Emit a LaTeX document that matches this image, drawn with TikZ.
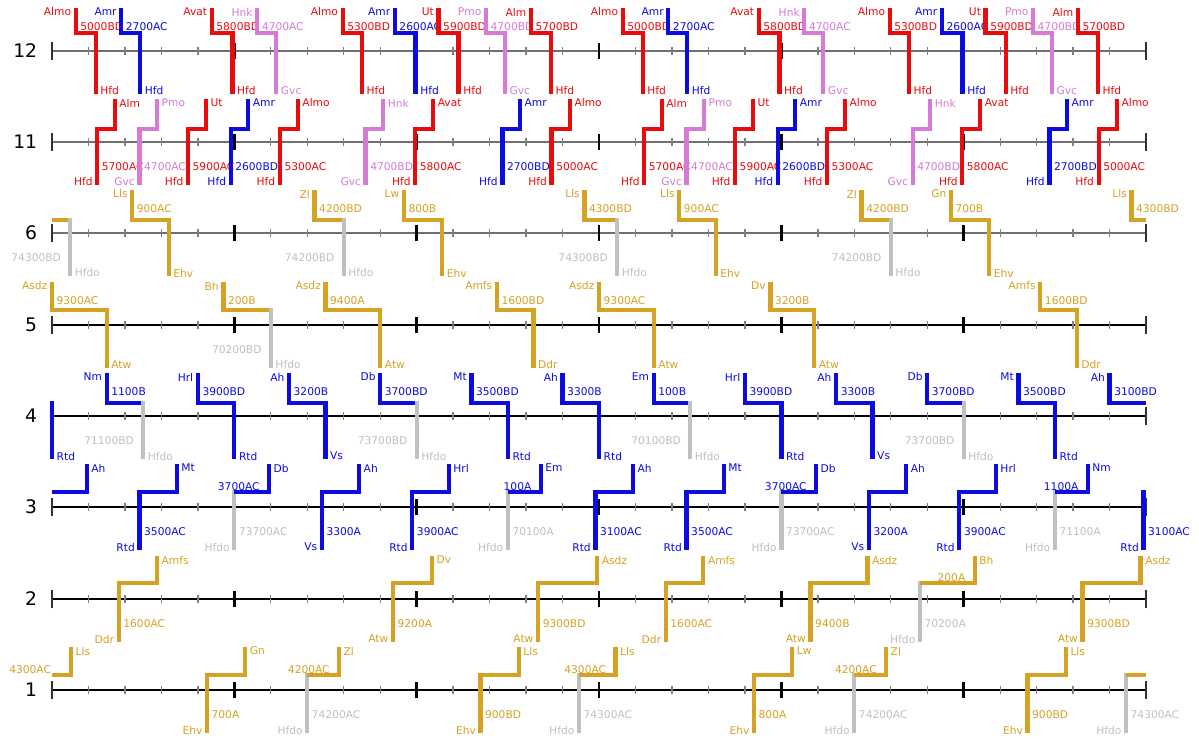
\documentclass[tikz,border=0pt]{standalone}
\usepackage{fontspec}
\setmainfont{DejaVu Sans}

\definecolor{trred}{RGB}{232,12,12}
\definecolor{trblue}{RGB}{12,12,225}
\definecolor{trpink}{RGB}{214,122,214}
\definecolor{trgold}{RGB}{214,162,36}
\definecolor{trempty}{RGB}{192,192,192}
\definecolor{axisgray}{RGB}{112,112,112}

\newcounter{trn}

% one platform track: y, number, line colour
\newcommand{\trackaxis}[3]{%
  \draw[axisline=#3] (0,#1) -- (30,#1);
  \foreach \i in {1,...,29} \draw[minortick] (\i,#1-4) -- (\i,#1+4);
  \foreach \i in {5,10,...,25} \draw[majortick] (\i,#1-8) -- (\i,#1+8);
  \foreach \i in {0,30} \draw[endtick] (\i,#1-9) -- (\i,#1+9);
  \node[tracklabel] (track#2) at (0,#1) {#2};
}

% train coming from above: y, in, out, colour, from, number, to
\newcommand{\dntrain}[7]{%
  \stepcounter{trn}%
  \draw[trainline=#4] (#2,#1+43) |- (#3,#1+\stp) -- (#3,#1-43);
  \node[lbl=#4, tagl] (from\thetrn) at (#2,#1+39) {#5};
  \node[lbl=#4, tagr] (nr\thetrn) at (#2,#1+24) {#6};
  \node[lbl=#4, tagr] (to\thetrn) at (#3,#1-40) {#7};
}

% same, leaving empty to Hfdo: y, in, out, colour, from, number, empty number
\newcommand{\dnempty}[7]{%
  \stepcounter{trn}%
  \draw[trainline=#4] (#2,#1+43) |- (#3,#1+\stp);
  \draw[trainline=trempty] (#3,#1+\stp+2) -- (#3,#1-43);
  \node[lbl=#4, tagl] (from\thetrn) at (#2,#1+39) {#5};
  \node[lbl=#4, tagr] (nr\thetrn) at (#2,#1+24) {#6};
  \node[lbl=trempty, tagl, xshift=-3.5pt] (enr\thetrn) at (#3,#1-25) {#7};
  \node[lbl=trempty, tagr] (to\thetrn) at (#3,#1-40) {Hfdo};
}

% train coming from below: y, in, out, colour, from, number, to
\newcommand{\uptrain}[7]{%
  \stepcounter{trn}%
  \draw[trainline=#4] (#2,#1-43) |- (#3,#1+\stp) -- (#3,#1+43);
  \node[lbl=#4, tagl] (from\thetrn) at (#2,#1-40) {#5};
  \node[lbl=#4, tagr] (nr\thetrn) at (#2,#1-25) {#6};
  \node[lbl=#4, tagr] (to\thetrn) at (#3,#1+39) {#7};
}

% same, coming empty from Hfdo: y, in, out, colour, empty number, number, to
\newcommand{\upempty}[7]{%
  \stepcounter{trn}%
  \draw[trainline=trempty] (#2,#1-43) -- (#2,#1+\stp+2);
  \draw[trainline=#4] (#2,#1+\stp) -| (#3,#1+43);
  \node[lbl=trempty, tagl] (from\thetrn) at (#2,#1-40) {Hfdo};
  \node[lbl=trempty, tagr] (enr\thetrn) at (#2,#1-25) {#5};
  \node[lbl=#4, anchor=south east, xshift=-6pt] (nr\thetrn) at (#3,#1+\stp) {#6};
  \node[lbl=#4, tagr] (to\thetrn) at (#3,#1+39) {#7};
}

\begin{document}
\begin{tikzpicture}[
    x=27.35pt,
    y=0.75pt,
    every node/.style={font=\fontsize{8}{9.6}\selectfont, inner sep=0.8pt},
    lbl/.style={text=#1},
    tagl/.style={anchor=east, xshift=-2.5pt},
    tagr/.style={anchor=west, xshift=2.5pt},
    trainline/.style={draw=#1, line width=3.2pt},
    axisline/.style={draw=#1, line width=1.6pt},
    minortick/.style={draw=gray, line width=1pt},
    majortick/.style={draw=black, line width=2pt},
    endtick/.style={draw=black!80, line width=1.4pt},
    tracklabel/.style={anchor=east, xshift=-11pt, inner sep=0pt, font=\fontsize{14}{16}\selectfont}
  ]
  \path[use as bounding box, fill=white] (-1.4258,0) rectangle (31.4515,740);

  % Track 12
  \def\rowy{689}\def\stp{18}
  \trackaxis{\rowy}{12}{axisgray}
  \foreach \s in {0,15}
    \foreach \ta/\tb/\col/\org/\nr/\dst in {
        0.65/1.2/trred/Almo/5000BD/Hfd,
        1.9/2.42/trblue/Amr/2700AC/Hfd,
        4.38/4.95/trred/Avat/5800BD/Hfd,
        5.63/6.15/trpink/Hnk/4700AC/Gvc,
        7.97/8.5/trred/Almo/5300BD/Hfd,
        9.4/9.97/trblue/Amr/2600AC/Hfd,
        10.6/11.15/trred/Ut/5900BD/Hfd,
        11.9/12.42/trpink/Pmo/4700BD/Gvc,
        13.13/13.68/trred/Alm/5700BD/Hfd}
      {\dntrain{\rowy}{\ta+\s}{\tb+\s}{\col}{\org}{\nr}{\dst}}

  % Track 11
  \def\rowy{598}\def\stp{13}
  \trackaxis{\rowy}{11}{axisgray}
  \foreach \s in {0,15}
    \foreach \ta/\tb/\col/\org/\nr/\dst in {
        1.24/1.72/trred/Hfd/5700AC/Alm,
        2.4/2.88/trpink/Gvc/4700AC/Pmo,
        3.73/4.22/trred/Hfd/5900AC/Ut,
        4.9/5.38/trblue/Hfd/2600BD/Amr,
        6.25/6.74/trred/Hfd/5300AC/Almo,
        8.6/9.08/trpink/Gvc/4700BD/Hnk,
        9.96/10.45/trred/Hfd/5800AC/Avat,
        12.35/12.83/trblue/Hfd/2700BD/Amr,
        13.7/14.2/trred/Hfd/5000AC/Almo}
      {\uptrain{\rowy}{\ta+\s}{\tb+\s}{\col}{\org}{\nr}{\dst}}

  % Track 6
  \def\rowy{507}\def\stp{13}
  \trackaxis{\rowy}{6}{axisgray}
  \draw[trainline=trgold] (0,\rowy+\stp) -- (0.5,\rowy+\stp);
  \draw[trainline=trempty] (0.5,\rowy+\stp+2) -- (0.5,\rowy-43);
  \node[lbl=trempty, tagl, xshift=-3.5pt] (wrap6e) at (0.5,\rowy-25) {74300BD};
  \node[lbl=trempty, tagr] (wrap6t) at (0.5,\rowy-40) {Hfdo};
  \foreach \s/\org/\nr in {0/Lw/800B, 15/Gn/700B} {
    \dntrain{\rowy}{2.2+\s}{3.2+\s}{trgold}{Lls}{900AC}{Ehv}
    \dnempty{\rowy}{7.2+\s}{8+\s}{trgold}{Zl}{4200BD}{74200BD}
    \dntrain{\rowy}{9.65+\s}{10.7+\s}{trgold}{\org}{\nr}{Ehv}
  }
  \dnempty{\rowy}{14.6}{15.5}{trgold}{Lls}{4300BD}{74300BD}
  \draw[trainline=trgold] (29.6,\rowy+43) |- (30,\rowy+\stp);
  \node[lbl=trgold, tagl] (wrap6f) at (29.6,\rowy+39) {Lls};
  \node[lbl=trgold, tagr] (wrap6n) at (29.6,\rowy+24) {4300BD};

  % Track 5
  \def\rowy{415}\def\stp{15}
  \trackaxis{\rowy}{5}{black}
  \foreach \ta/\tb/\org/\nr/\dst in {0/1.5/Asdz/9300AC/Atw, 7.5/9/Asdz/9400A/Atw,
      12.2/13.2/Amfs/1600BD/Ddr, 15/16.5/Asdz/9300AC/Atw, 19.7/20.9/Dv/3200B/Atw,
      27.1/28.1/Amfs/1600BD/Ddr}
    {\dntrain{\rowy}{\ta}{\tb}{trgold}{\org}{\nr}{\dst}}
  \dnempty{\rowy}{4.7}{6}{trgold}{Bh}{200B}{70200BD}

  % Track 4
  \def\rowy{324}\def\stp{13}
  \trackaxis{\rowy}{4}{black}
  \draw[trainline=trblue] (0,\rowy+\stp+2) -- (0,\rowy-43);
  \node[lbl=trblue, tagr] (wrap4t) at (0,\rowy-40) {Rtd};
  \foreach \s/\org/\nr/\enr/\nrb in {0/Nm/1100B/71100BD/3200B, 15/Em/100B/70100BD/3300B} {
    \dnempty{\rowy}{1.5+\s}{2.5+\s}{trblue}{\org}{\nr}{\enr}
    \dntrain{\rowy}{4+\s}{5+\s}{trblue}{Hrl}{3900BD}{Rtd}
    \dntrain{\rowy}{6.5+\s}{7.5+\s}{trblue}{Ah}{\nrb}{Vs}
    \dnempty{\rowy}{9+\s}{10+\s}{trblue}{Db}{3700BD}{73700BD}
    \dntrain{\rowy}{11.5+\s}{12.5+\s}{trblue}{Mt}{3500BD}{Rtd}
  }
  \dntrain{\rowy}{14}{15}{trblue}{Ah}{3300B}{Rtd}
  \draw[trainline=trblue] (29,\rowy+43) |- (30,\rowy+\stp);
  \node[lbl=trblue, tagl] (wrap4f) at (29,\rowy+39) {Ah};
  \node[lbl=trblue, tagr] (wrap4n) at (29,\rowy+24) {3100BD};

  % Track 3
  \def\rowy{233}\def\stp{15}
  \trackaxis{\rowy}{3}{black}
  \draw[trainline=trblue] (0,\rowy+\stp) -| (0.95,\rowy+43);
  \node[lbl=trblue, tagr] (wrap3t) at (0.95,\rowy+39) {Ah};
  \foreach \s/\nra/\enr/\nrb/\dst in {0/3300A/70100A/100A/Em, 15/3200A/71100A/1100A/Nm} {
    \uptrain{\rowy}{2.4+\s}{3.42+\s}{trblue}{Rtd}{3500AC}{Mt}
    \upempty{\rowy}{5+\s}{5.95+\s}{trblue}{73700AC}{3700AC}{Db}
    \uptrain{\rowy}{7.4+\s}{8.42+\s}{trblue}{Vs}{\nra}{Ah}
    \uptrain{\rowy}{9.88+\s}{10.88+\s}{trblue}{Rtd}{3900AC}{Hrl}
    \upempty{\rowy}{12.5+\s}{13.4+\s}{trblue}{\enr}{\nrb}{\dst}
  }
  \uptrain{\rowy}{14.9}{15.93}{trblue}{Rtd}{3100AC}{Ah}
  \draw[trainline=trblue] (29.93,\rowy-43) |- (30,\rowy+\stp);
  \node[lbl=trblue, tagl] (wrap3f) at (29.93,\rowy-40) {Rtd};
  \node[lbl=trblue, tagr] (wrap3n) at (29.93,\rowy-25) {3100AC};

  % Track 2
  \def\rowy{141}\def\stp{16}
  \trackaxis{\rowy}{2}{black}
  \foreach \ta/\tb/\org/\nr/\dst in {1.83/2.88/Ddr/1600AC/Amfs, 9.35/10.42/Atw/9200A/Dv,
      13.33/14.95/Atw/9300BD/Asdz, 16.83/17.86/Ddr/1600AC/Amfs, 20.8/22.36/Atw/9400B/Asdz}
    {\uptrain{\rowy}{\ta}{\tb}{trgold}{\org}{\nr}{\dst}}
  \upempty{\rowy}{23.8}{25.3}{trgold}{70200A}{200A}{Bh}
  \uptrain{\rowy}{28.26}{29.85}{trgold}{Atw}{9300BD}{Asdz}

  % Track 1
  \def\rowy{50}\def\stp{15}
  \trackaxis{\rowy}{1}{black}
  \draw[trainline=trgold] (0,\rowy+\stp) -| (0.52,\rowy+43);
  \node[lbl=trgold, anchor=south east, xshift=-14pt] (wrap1n) at (0.52,\rowy+\stp) {4300AC};
  \node[lbl=trgold, tagr] (wrap1t) at (0.52,\rowy+39) {Lls};
  \foreach \s/\nr/\dst in {0/700A/Gn, 15/800A/Lw} {
    \uptrain{\rowy}{4.25+\s}{5.3+\s}{trgold}{Ehv}{\nr}{\dst}
    \upempty{\rowy}{7+\s}{7.87+\s}{trgold}{74200AC}{4200AC}{Zl}
    \uptrain{\rowy}{11.75+\s}{12.8+\s}{trgold}{Ehv}{900BD}{Lls}
  }
  \upempty{\rowy}{14.45}{15.45}{trgold}{74300AC}{4300AC}{Lls}
  \draw[trainline=trempty] (29.45,\rowy-43) -- (29.45,\rowy+\stp+2);
  \draw[trainline=trgold] (29.45,\rowy+\stp) -- (30,\rowy+\stp);
  \node[lbl=trempty, tagl] (wrap1f) at (29.45,\rowy-40) {Hfdo};
  \node[lbl=trempty, tagr] (wrap1e) at (29.45,\rowy-25) {74300AC};
\end{tikzpicture}
\end{document}
